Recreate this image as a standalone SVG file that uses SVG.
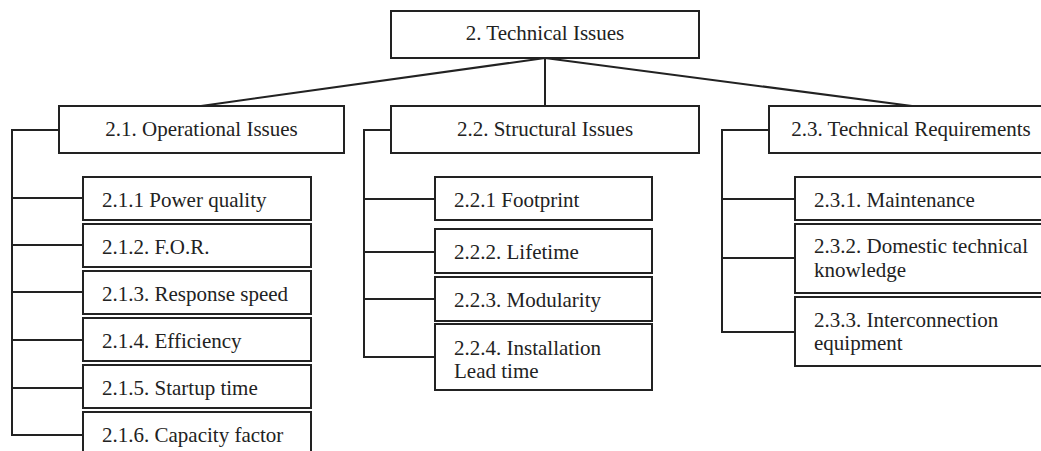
<svg xmlns="http://www.w3.org/2000/svg" width="1041" height="451" viewBox="0 0 1041 451">
<style>
rect{fill:#fff;stroke:#222;stroke-width:2}
text{font-family:'Liberation Serif','Times New Roman',serif;font-size:21px;fill:#222}
.c{text-anchor:middle}
.ln{fill:none;stroke:#222;stroke-width:2}
</style>
<rect x="0" y="0" width="1041" height="451" style="stroke:none"/>
<g id="connectors">
<path class="ln" d="M545,58 L201,106 M545,58 V106 M545,58 L912,106"/>
<path class="ln" d="M59,130 H12 V435 H83 M12,198 H83 M12,245 H83 M12,292 H83 M12,340 H83 M12,388 H83"/>
<path class="ln" d="M391,130 H364 V357 H435 M364,199 H435 M364,252 H435 M364,299 H435"/>
<path class="ln" d="M769,130 H722 V332 H795 M722,199 H795 M722,258 H795"/>
</g>
<g id="n2"><rect x="391" y="11" width="308" height="47"/><text class="c" x="545" y="40">2. Technical Issues</text></g>
<g id="n21"><rect x="59" y="106" width="285" height="47"/><text class="c" x="201.5" y="136">2.1. Operational Issues</text></g>
<g id="n22"><rect x="391" y="106" width="308" height="47"/><text class="c" x="545" y="136">2.2. Structural Issues</text></g>
<g id="n23"><rect x="769" y="106" width="284" height="47"/><text class="c" x="911" y="136">2.3. Technical Requirements</text></g>
<g id="n211"><rect x="83" y="177" width="228" height="43"/><text x="102" y="207">2.1.1 Power quality</text></g>
<g id="n212"><rect x="83" y="224" width="228" height="43"/><text x="102" y="254">2.1.2. F.O.R.</text></g>
<g id="n213"><rect x="83" y="271" width="228" height="43"/><text x="102" y="301">2.1.3. Response speed</text></g>
<g id="n214"><rect x="83" y="318" width="228" height="43"/><text x="102" y="348">2.1.4. Efficiency</text></g>
<g id="n215"><rect x="83" y="365" width="228" height="43"/><text x="102" y="395">2.1.5. Startup time</text></g>
<g id="n216"><rect x="83" y="412" width="228" height="45"/><text x="102" y="442">2.1.6. Capacity factor</text></g>
<g id="n221"><rect x="435" y="177" width="217" height="43"/><text x="454" y="207">2.2.1 Footprint</text></g>
<g id="n222"><rect x="435" y="229" width="217" height="44"/><text x="454" y="259">2.2.2. Lifetime</text></g>
<g id="n223"><rect x="435" y="277" width="217" height="44"/><text x="454" y="307">2.2.3. Modularity</text></g>
<g id="n224"><rect x="435" y="324" width="217" height="66"/><text x="454" y="355">2.2.4. Installation</text><text x="454" y="378">Lead time</text></g>
<g id="n231"><rect x="795" y="177" width="260" height="43"/><text x="814" y="207">2.3.1. Maintenance</text></g>
<g id="n232"><rect x="795" y="224" width="260" height="69"/><text x="814" y="253">2.3.2. Domestic technical</text><text x="814" y="277">knowledge</text></g>
<g id="n233"><rect x="795" y="297" width="260" height="69"/><text x="814" y="327">2.3.3. Interconnection</text><text x="814" y="350">equipment</text></g>
</svg>
